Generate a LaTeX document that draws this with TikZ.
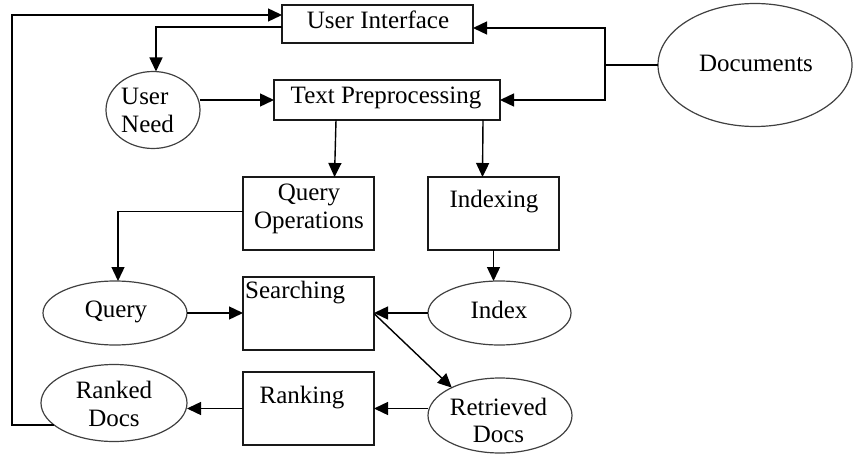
\documentclass[tikz,border=0pt]{standalone}
\usepackage{fontspec}
\setmainfont{Liberation Serif}
\usetikzlibrary{arrows.meta,shapes.geometric}
\begin{document}
\begin{tikzpicture}[x=1pt,y=-1pt,
 box/.style={draw=black!90, line width=1.4pt, inner sep=0pt, outer sep=0pt},
 ell/.style={ellipse, draw=black!75, line width=1.2pt, inner sep=0pt, outer sep=0pt},
 txt/.style={font=\fontsize{25}{28}\selectfont, inner sep=0pt, align=center, anchor=base},
 arr/.style={draw=black, line width=1.4pt, -{Triangle[length=14pt,width=13pt]}},
 ln/.style={draw=black, line width=1.4pt}]
\useasboundingbox (0,0) rectangle (853,457);
% boxes
\node[box, minimum width=191pt, minimum height=38pt] (ui) at (377.5,24) {};
\node[box, minimum width=226pt, minimum height=40pt] (tp) at (387,100) {};
\node[box, minimum width=131pt, minimum height=73pt] (qops) at (308.5,213.5) {};
\node[box, minimum width=131pt, minimum height=73pt] (indexing) at (493.5,213.5) {};
\node[box, minimum width=131pt, minimum height=73pt] (search) at (308.5,313.5) {};
\node[box, minimum width=131pt, minimum height=73pt] (ranking) at (308.5,408.5) {};
% ellipses
\node[ell, minimum width=94pt, minimum height=77pt] (need) at (153,110) {};
\node[ell, minimum width=194pt, minimum height=123pt] (docs) at (755,65) {};
\node[ell, minimum width=144pt, minimum height=64pt] (query) at (115,313) {};
\node[ell, minimum width=143pt, minimum height=64pt] (index) at (499.5,313) {};
\node[ell, minimum width=146pt, minimum height=77pt] (ranked) at (114,403) {};
\node[ell, minimum width=144pt, minimum height=75pt] (retrieved) at (500,415.5) {};
% texts (base = baseline of the last line)
\node[txt] (uiT) at (378,29) {User Interface};
\node[txt] (tpT) at (386,104) {Text Preprocessing};
\node[txt] (docsT) at (756,72) {Documents};
\node[txt, anchor=base west, align=left] (needT) at (121,133) {User\\Need};
\node[txt] (qopsT) at (309,228) {Query\\Operations};
\node[txt] (indexingT) at (494,207) {Indexing};
\node[txt] (queryT) at (116,317) {Query};
\node[txt, anchor=base west] (searchT) at (245,298) {Searching};
\node[txt] (indexT) at (499,318) {Index};
\node[txt] (rankingT) at (302,403) {Ranking};
\node[txt] (rankedT) at (114,426) {Ranked\\Docs};
\node[txt, font=\fontsize{25}{26.5}\selectfont] (retrievedT) at (498.5,442) {Retrieved\\Docs};
% connectors
\coordinate (dj) at (605,65);
\draw[ln] (docs.west) -- (dj);
\draw[arr] (dj) |- ([yshift=-4pt]ui.east);
\draw[arr] (dj) |- (tp.east);
\draw[arr] ([yshift=-3pt]ui.west) -| ([xshift=3pt]need.north);
\coordinate (lp) at (12,15);
\draw[arr] (ranked.200) -| (lp) -- ([yshift=9pt]ui.west);
\draw[arr] (tp.west -| need.east) -- (tp.west);
\draw[arr] ([xshift=-51pt]tp.south) -- ([xshift=26pt]qops.north);
\draw[arr] ([xshift=96pt]tp.south) -- ([xshift=-11pt]indexing.north);
\draw[arr] (indexing.south) -- (indexing.south |- index.north);
\draw[arr] ([yshift=2pt]qops.west) -| ([xshift=3pt]query.north);
\draw[arr] (query.east) -- (query.east -| search.west);
\draw[arr] (index.west) -- (index.west -| search.east);
\draw[arr] (search.east) -- (retrieved.150);
\draw[arr] (ranking.east -| retrieved.west) -- (ranking.east);
\draw[arr] (ranking.west) -- (ranking.west -| ranked.east);
\end{tikzpicture}
\end{document}
